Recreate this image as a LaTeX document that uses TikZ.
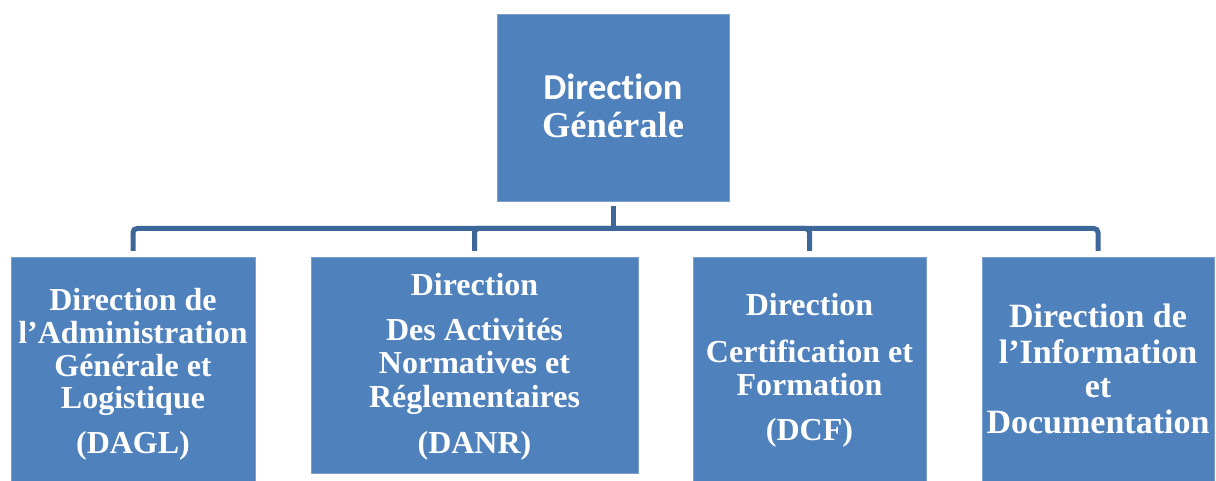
\documentclass[tikz,border=0pt]{standalone}
\usepackage{fontspec}
\setmainfont{Liberation Serif}
\newfontfamily\calibrilike[Ligatures=CommonOff]{Carlito}
\definecolor{boxblue}{HTML}{4F81BD}
\definecolor{linkblue}{HTML}{3D6699}
\begin{document}
\begin{tikzpicture}[x=1pt,y=-1pt,
  unitbox/.style 2 args={rectangle, fill=boxblue, draw=boxblue!75!white, line width=0.8pt,
    inner sep=0pt, outer sep=0pt, minimum width=#1, minimum height=#2},
  link/.style={draw=linkblue, line width=5pt, rounded corners=4pt},
  txt/.style={anchor=base, text=white, inner sep=0pt, font=\fontsize{32}{32}\selectfont\bfseries},
  bigtxt/.style={anchor=base, text=white, inner sep=0pt, font=\fontsize{34}{34}\selectfont\bfseries},
  toptxt/.style={anchor=base, text=white, inner sep=0pt, font=\fontsize{36.5}{36.5}\selectfont\bfseries}]
\useasboundingbox (0,0) rectangle (1216,481);

% boxes
\node[unitbox={232pt}{187pt}] (dg)   at (613,107.5) {};
\node[unitbox={244pt}{224pt}] (dagl) at (133,369)   {};
\node[unitbox={327pt}{216pt}] (danr) at (474.5,365) {};
\node[unitbox={233pt}{224pt}] (dcf)  at (809.5,369) {};
\node[unitbox={232pt}{224pt}] (did)  at (1098,369)  {};

% connectors: stem, then one branch per direction
\coordinate (bus) at ([yshift=-27.5pt]dg.south);
\draw[link, shorten <=5.5pt] (dg.south) -- (bus);
\foreach \d in {dagl,danr,dcf,did}
  \draw[link, shorten >=6pt] (bus) -| (\d.north);

% Direction Générale
\node[toptxt, font=\calibrilike\fontsize{36.5}{36.5}\selectfont\bfseries] (dg1) at (613,100) {Direction};
\node[toptxt] (dg2) at (613,138) {Générale};

% DAGL
\node[txt] (dagl1) at (133,310) {Direction de};
\node[txt] (dagl2) at (133,343) {l’Administration};
\node[txt] (dagl3) at (133,376) {Générale et};
\node[txt] (dagl4) at (133,408) {Logistique};
\node[txt] (dagl5) at (133,453) {(DAGL)};

% DANR
\node[txt] (danr1) at (474.5,295) {Direction};
\node[txt] (danr2) at (474.5,340) {Des Activités};
\node[txt] (danr3) at (474.5,373) {Normatives et};
\node[txt] (danr4) at (474.5,407) {Réglementaires};
\node[txt] (danr5) at (474.5,453) {(DANR)};

% DCF
\node[txt] (dcf1) at (809.5,315) {Direction};
\node[txt] (dcf2) at (809.5,362) {Certification et};
\node[txt] (dcf3) at (809.5,395) {Formation};
\node[txt] (dcf4) at (809.5,440) {(DCF)};

% DID
\node[bigtxt] (did1) at (1098,327) {Direction de};
\node[bigtxt] (did2) at (1098,363) {l’Information};
\node[bigtxt] (did3) at (1098,397) {et};
\node[bigtxt] (did4) at (1098,433) {Documentation};
\end{tikzpicture}
\end{document}
